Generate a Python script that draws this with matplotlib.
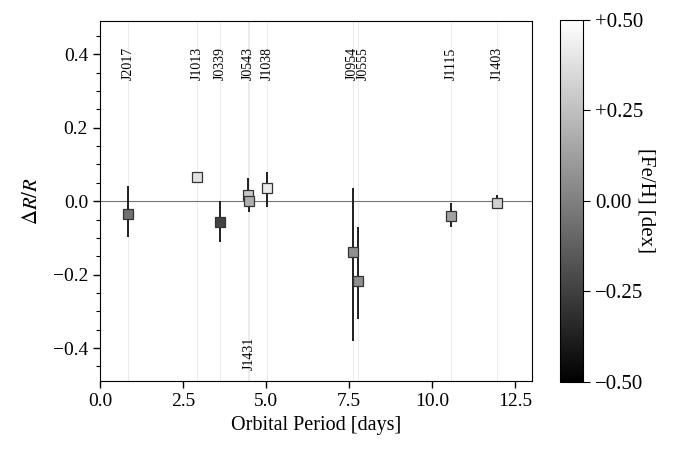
import numpy as np
import matplotlib
matplotlib.use("Agg")
import matplotlib.pyplot as plt
from matplotlib import cm, colors

plt.rcParams['font.family'] = ['Liberation Serif', 'DejaVu Serif']
plt.rcParams['mathtext.fontset'] = 'stix'

names = ['J2017', 'J1013', 'J0339', 'J0543', 'J1431', 'J1038', 'J0954', 'J0555', 'J1115', 'J1403']
period = [0.84, 2.92, 3.61, 4.46, 4.50, 5.03, 7.62, 7.77, 10.58, 11.95]
dr = [-0.035, 0.066, -0.056, 0.018, 0.000, 0.037, -0.138, -0.218, -0.040, -0.005]
err_up = [0.075, 0.012, 0.056, 0.045, 0.012, 0.043, 0.173, 0.148, 0.035, 0.023]
err_lo = [0.062, 0.012, 0.056, 0.012, 0.030, 0.052, 0.242, 0.102, 0.030, 0.017]
feh = [-0.06, 0.38, -0.24, 0.28, 0.18, 0.42, 0.06, 0.06, 0.13, 0.32]
label_pos = ['top', 'top', 'top', 'top', 'bottom', 'top', 'top', 'top', 'top', 'top']
label_shift = [0, 0, 0, 0, 0, 0, -0.04, 0.16, 0, 0]

fig = plt.figure(figsize=(6.75, 4.5), dpi=100)
ax = fig.add_axes([0.148, 0.153, 0.640, 0.800])
cax = fig.add_axes([0.830, 0.151, 0.034, 0.805])

norm = colors.Normalize(vmin=-0.5, vmax=0.5)
cmap = plt.get_cmap('gray')

ax.axhline(0, color='0.45', lw=0.8, zorder=1)
for i, p in enumerate(period):
    ax.axvline(p, color='0.91', lw=0.6, zorder=0)
    ax.errorbar(p, dr[i], yerr=[[err_lo[i]], [err_up[i]]], fmt='none',
                ecolor='0.12', elinewidth=1.4, capsize=0, zorder=2)
    ax.plot(p, dr[i], 's', ms=7.5, mfc=cmap(norm(feh[i])), mec='0.2', mew=0.9, zorder=3)
    x = p + label_shift[i]
    if label_pos[i] == 'top':
        ax.text(x, 0.33, names[i], rotation=90, ha='center', va='bottom', fontsize=10)
    else:
        ax.text(x, -0.46, names[i], rotation=90, ha='center', va='bottom', fontsize=10)

ax.set_xlim(0, 13)
ax.set_ylim(-0.49, 0.49)
ax.set_xticks([0, 2.5, 5, 7.5, 10, 12.5])
ax.set_yticks([-0.4, -0.2, 0.0, 0.2, 0.4])
ax.set_yticks(np.arange(-0.45, 0.5, 0.05), minor=True)
ax.tick_params(labelsize=14, length=5, width=1)
ax.tick_params(which='minor', length=3, width=0.8)
ax.set_xlabel('Orbital Period [days]', fontsize=14.5)
ax.set_ylabel(r'$\Delta R/R$', fontsize=15, labelpad=8)

cb = fig.colorbar(cm.ScalarMappable(norm=norm, cmap=cmap), cax=cax)
cb.set_ticks([-0.5, -0.25, 0, 0.25, 0.5])
cb.set_ticklabels(['\u22120.50', '\u22120.25', '0.00', '+0.25', '+0.50'])
cb.ax.tick_params(labelsize=15, length=5)
cb.set_label('[Fe/H] [dex]', rotation=270, fontsize=15, labelpad=9)
cb.outline.set_linewidth(0.8)

fig.savefig('out.png', dpi=100)
